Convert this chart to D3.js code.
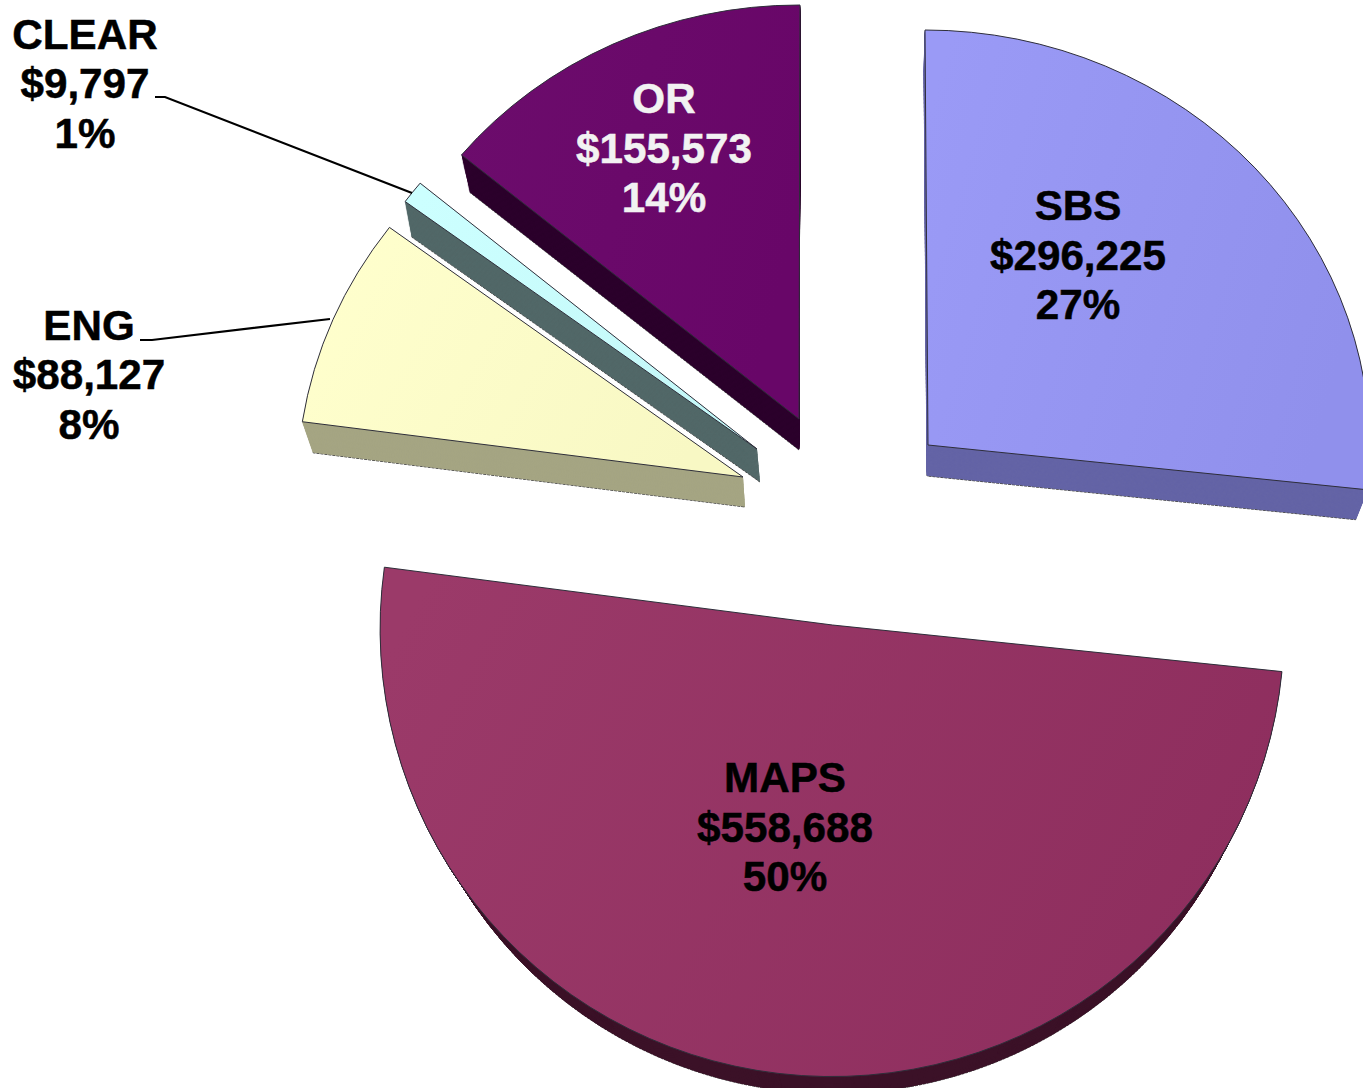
<!DOCTYPE html>
<html>
<head>
<meta charset="utf-8">
<script src="https://cdn.jsdelivr.net/npm/d3@7/dist/d3.min.js"></script>
<style>
html,body{margin:0;padding:0;background:#fff;overflow:hidden}
svg{display:block}
text{font-family:"Liberation Sans",Arial,sans-serif;font-weight:700;font-size:42.2px;text-anchor:middle;stroke-width:0.5px}
</style>
</head>
<body>
<svg id="chart" width="1363" height="1088"></svg>
<script>
// data
const categories = ["SBS", "MAPS", "ENG", "CLEAR", "OR"];
const amounts = [296225, 558688, 88127, 9797, 155573];

// styles
const faceStart = ["#9a9af6", "#9b3a69", "#ffffcd", "#ccffff", "#6c0c6c"];
const faceEnd = ["#9090ec", "#8e2e5e", "#f8f8c4", "#c4f8f8", "#680668"];
const sideColors = ["#6464a6", "#3c1228", "#a5a583", "#526868", "#2c002c"];
const labelColors = ["#000", "#000", "#000", "#000", "#f2f2f2"];

// layout: each exploded slice has its own top-face frame [cx, cy, Rx, Ry, Ux, Uy],
// its bottom-face centre [cx, cy] and shrink factor (3D perspective)
const topFrames = [
  [928, 445, 442, 0, -3, -415],
  [832.5, 625, 452, -1.8, -1.5, -448],
  [743, 477, 446, -1, 10, -423],
  [757, 449, 438, 0, 2, -418],
  [799, 419, 438, 1, 1, -414]
];
const bottomCentres = [[927, 476], [834, 660], [745, 507], [760, 482], [799, 450]];
const bottomShrink = [0.975, 0.96, 0.98, 0.99, 0.975];
const labelPos = [[1078, 220], [785, 792], [89, 339.5], [85, 48.5], [664, 113]];
const lineGap = 49.5;
const leaders = {
  3: [[155, 97], [165, 97], [412, 193]],
  2: [[140, 340], [152, 340], [330, 319]]
};
const drawOrder = [0, 4, 3, 2, 1];
const layers = 36;

const svg = d3.select("#chart");
const defs = svg.append("defs");
const total = d3.sum(amounts);
const money = d3.format(",");
const arcs = d3.pie().sort(null)(amounts);
const unitArc = d3.arc().innerRadius(0).outerRadius(1);

categories.forEach((c, i) => {
  const g = defs.append("linearGradient").attr("id", "face" + i)
    .attr("x1", 0).attr("y1", 0.2).attr("x2", 1).attr("y2", 0.5);
  g.append("stop").attr("offset", 0).attr("stop-color", faceStart[i]);
  g.append("stop").attr("offset", 1).attr("stop-color", faceEnd[i]);
});

function matrix(i, t) {
  const [cx, cy, rx, ry, ux, uy] = topFrames[i];
  const [bx, by] = bottomCentres[i];
  const k = 1 + (bottomShrink[i] - 1) * t;
  const x = cx + (bx - cx) * t, y = cy + (by - cy) * t;
  // d3.arc uses x = r sin(a), y = -r cos(a)
  return `matrix(${rx * k},${ry * k},${-ux * k},${-uy * k},${x},${y})`;
}

drawOrder.forEach(i => {
  const slice = svg.append("g").attr("class", "slice slice-" + categories[i]);
  const d = unitArc(arcs[i]);
  // extruded wall, swept from the bottom face up to the top face
  slice.selectAll("path.wall").data(d3.range(layers, 0, -1)).join("path")
    .attr("class", "wall")
    .attr("d", d)
    .attr("transform", n => matrix(i, n / layers))
    .attr("fill", sideColors[i])
    .attr("stroke", (n) => n === layers ? "#4a4a4a" : sideColors[i])
    .attr("stroke-width", 1)
    .attr("stroke-dasharray", n => n === layers ? "3 1" : null)
    .attr("vector-effect", "non-scaling-stroke");
  // top face
  slice.append("path").attr("class", "face")
    .attr("d", d)
    .attr("transform", matrix(i, 0))
    .attr("fill", `url(#face${i})`)
    .attr("stroke", "#2e2e3a")
    .attr("stroke-width", 1)
    .attr("vector-effect", "non-scaling-stroke");
});

const line = d3.line();
Object.values(leaders).forEach(pts => {
  svg.append("path").attr("d", line(pts)).attr("fill", "none")
    .attr("stroke", "#000").attr("stroke-width", 2.2);
});

categories.forEach((c, i) => {
  const rows = [c, "$" + money(amounts[i]), Math.round(100 * amounts[i] / total) + "%"];
  svg.append("g").selectAll("text").data(rows).join("text")
    .attr("x", labelPos[i][0])
    .attr("y", (r, j) => labelPos[i][1] + j * lineGap)
    .attr("fill", labelColors[i])
    .attr("stroke", labelColors[i])
    .text(r => r);
});
</script>
</body>
</html>
